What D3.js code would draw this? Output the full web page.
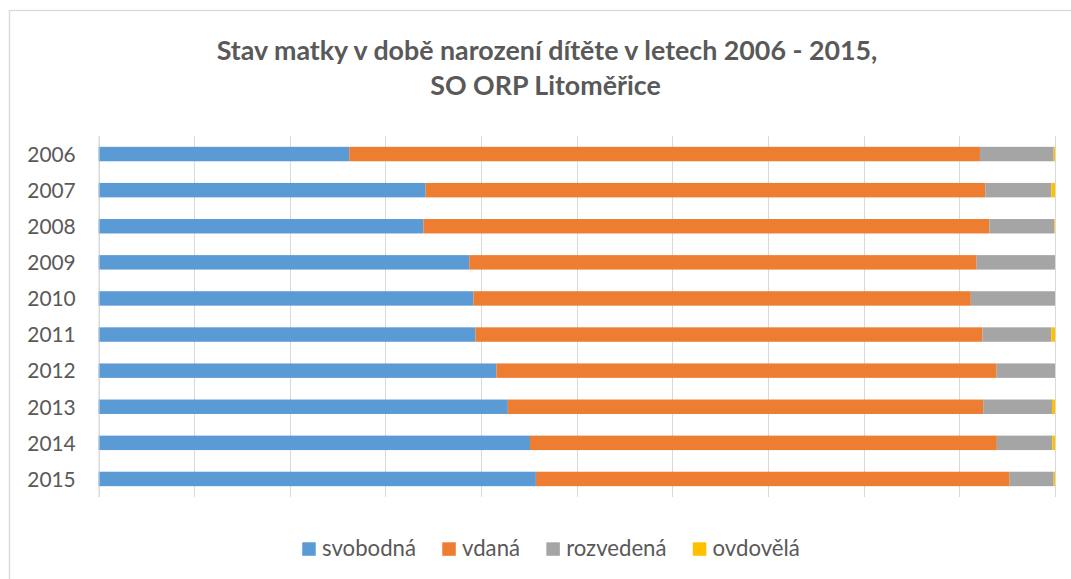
<!DOCTYPE html>
<html><head><meta charset="utf-8">
<script src="https://cdn.jsdelivr.net/npm/d3@7"></script>
<style>html,body{margin:0;padding:0;background:#fff;}svg{display:block;}</style>
</head><body>
<svg id="c" width="1071" height="579"></svg>
<script>
const years = ["2006","2007","2008","2009","2010","2011","2012","2013","2014","2015"];
const svobodna = [26.2, 34.2, 34.0, 38.8, 39.2, 39.4, 41.6, 42.8, 45.1, 45.7];
const vdana    = [65.9, 58.5, 59.2, 53.1, 52.0, 53.0, 52.3, 49.7, 48.8, 49.5];
const rozvedena= [7.7, 6.9, 6.8, 8.2, 8.8, 7.2, 6.1, 7.2, 5.8, 4.6];
const ovdovela = [0.14, 0.39, 0.07, 0, 0, 0.39, 0, 0.31, 0.28, 0.14];
const seriesNames = ["svobodná","vdaná","rozvedená","ovdovělá"];
const colors = ["#5B9BD5","#ED7D31","#A5A5A5","#FFC000"];
const titleLines = ["Stav matky v době narození dítěte v letech 2006 - 2015,","SO ORP Litoměřice"];

const FONT = "Lato, 'Open Sans', sans-serif";
const TXT = "#595959";
const svg = d3.select("#c");

// chart border
svg.append("rect").attr("x",9.5).attr("y",10.5).attr("width",1100).attr("height",600)
  .attr("fill","#fff").attr("stroke","#d9d9d9").attr("stroke-width",1.3);

function fitSize(text, weight, target){
  const t = svg.append("text").attr("font-family",FONT).attr("font-weight",weight)
    .attr("font-size",100).text(text);
  const w = t.node().getComputedTextLength();
  t.remove();
  return 100*target/w;
}

// title
const tSize = fitSize(titleLines[0], "bold", 661);
svg.append("text").attr("x",547).attr("y",59.5).attr("text-anchor","middle")
  .attr("font-family",FONT).attr("font-weight","bold").attr("font-size",tSize)
  .attr("fill",TXT).text(titleLines[0]);
svg.append("text").attr("x",545.5).attr("y",95).attr("text-anchor","middle")
  .attr("font-family",FONT).attr("font-weight","bold").attr("font-size",tSize)
  .attr("fill",TXT).text(titleLines[1]);

// data
const rows = years.map((y,i)=>({year:y, "svobodná":svobodna[i], "vdaná":vdana[i], "rozvedená":rozvedena[i], "ovdovělá":ovdovela[i]}));
const stack = d3.stack().keys(seriesNames).offset(d3.stackOffsetExpand);
const layers = stack(rows);

const x = d3.scaleLinear().domain([0,1]).range([98.5,1055]);
const y = d3.scaleBand().domain(years).range([136,497]).paddingInner(0.6).paddingOuter(0.3);

// gridlines
svg.append("g").selectAll("line").data(x.ticks(10)).join("line")
  .attr("x1",d=>Math.round(x(d))+0.5).attr("x2",d=>Math.round(x(d))+0.5)
  .attr("y1",136).attr("y2",497).attr("stroke","#d9d9d9").attr("stroke-width",1);

// bars
svg.append("g").selectAll("g").data(layers).join("g")
  .attr("fill",(d,i)=>colors[i])
  .selectAll("rect").data(d=>d).join("rect")
  .attr("x",d=>x(d[0])).attr("width",d=>Math.max(0,x(d[1])-x(d[0])))
  .attr("y",d=>y(d.data.year)).attr("height",y.bandwidth());

// axis line at 0
svg.append("line").attr("x1",99).attr("x2",99).attr("y1",136).attr("y2",497)
  .attr("stroke","#d9d9d9").attr("stroke-width",1);

// year labels
const ySize = fitSize("2006","normal",48.4);
svg.append("g").selectAll("text").data(years).join("text")
  .attr("x",75.7).attr("y",d=>y(d)+y.bandwidth()/2+7.8)
  .attr("text-anchor","end").attr("font-family",FONT).attr("font-size",ySize)
  .attr("fill",TXT).text(d=>d);

// legend
const lSize = fitSize("svobodná","normal",94);
const lg = svg.append("g");
let cx = 0;
const items = [];
seriesNames.forEach((n,i)=>{
  const g = lg.append("g").attr("transform",`translate(${cx},0)`);
  g.append("rect").attr("x",0).attr("y",542.3).attr("width",13.5).attr("height",13.5).attr("fill",colors[i]);
  const t = g.append("text").attr("x",19.8).attr("y",555.5).attr("font-family",FONT)
    .attr("font-size",lSize).attr("fill",TXT).text(n);
  const w = t.node().getComputedTextLength();
  cx += 19.8 + w + 26.3;
});
const totalW = cx - 26.3;
lg.attr("transform",`translate(${551 - totalW/2},0)`);
</script>
</body></html>
